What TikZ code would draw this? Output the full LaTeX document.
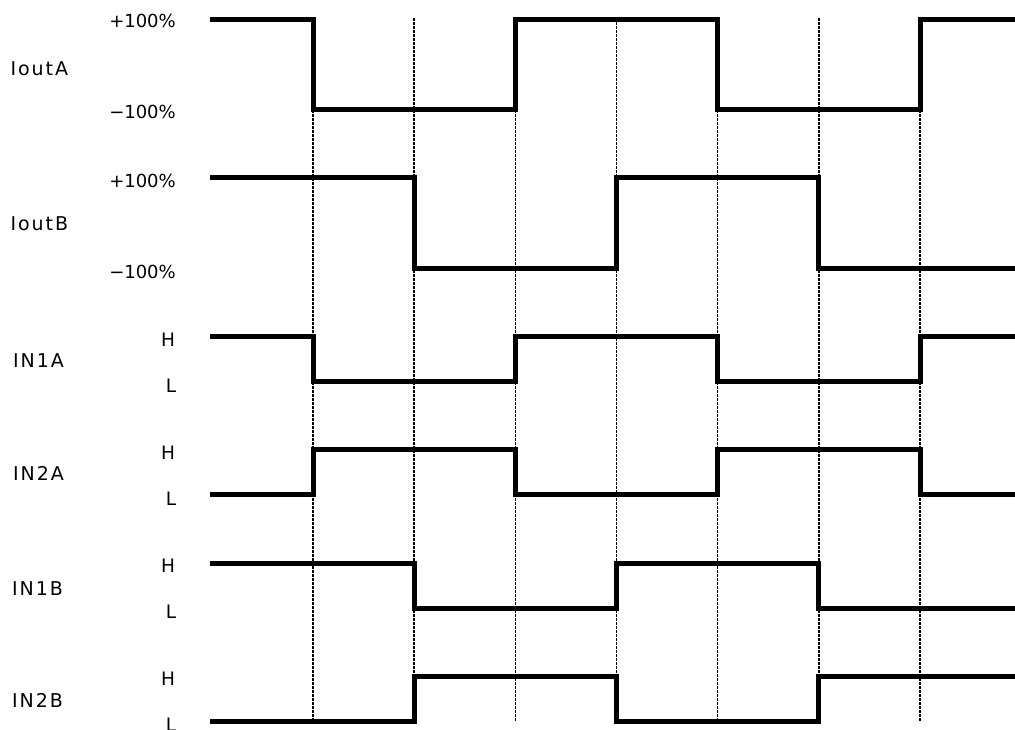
\documentclass[tikz,border=0pt]{standalone}
\usepackage{fontspec}
\setmainfont{DejaVu Sans}
\newfontfamily\labfont[LetterSpace=10]{DejaVu Sans}
\begin{document}
\begin{tikzpicture}[x=1pt,y=-1pt,
  wave/.style={line width=5pt, line join=miter},
  guide/.style={line width=1.5pt, dash pattern=on 2.5pt off 1.5pt},
  sig/.style={font=\labfont\fontsize{19}{19}\selectfont, inner sep=0pt, anchor=base west},
  lvl/.style={font=\fontsize{18}{18}\selectfont, inner sep=0pt, anchor=base east},
  hl/.style={font=\fontsize{18.5}{18.5}\selectfont, inner sep=0pt, anchor=base}]
\useasboundingbox (0,0) rectangle (1015,729);
\def\ta{313}\def\tb{414.2}\def\tc{515.3}\def\td{616.5}\def\te{717.7}\def\tf{818.9}\def\tg{920}
\def\xs{210}\def\xe{1015}
% guide lines
\foreach \t [count=\i] in {\ta,\tb,\tc,\td,\te,\tf,\tg}{
  \coordinate (g\i t) at (\t,18);
  \coordinate (g\i b) at (\t,722);
  \draw[guide] (g\i t) -- (g\i b);
}
% IoutA
\draw[wave] (\xs,19) -- (\ta,19) -- (\ta,109) -- (\tc,109) -- (\tc,19) -- (\te,19) -- (\te,109) -- (\tg,109) -- (\tg,19) -- (\xe,19);
% IoutB
\draw[wave] (\xs,177) -- (\tb,177) -- (\tb,268) -- (\td,268) -- (\td,177) -- (\tf,177) -- (\tf,268) -- (\xe,268);
% IN1A
\draw[wave] (\xs,336) -- (\ta,336) -- (\ta,381) -- (\tc,381) -- (\tc,336) -- (\te,336) -- (\te,381) -- (\tg,381) -- (\tg,336) -- (\xe,336);
% IN2A
\draw[wave] (\xs,494) -- (\ta,494) -- (\ta,449) -- (\tc,449) -- (\tc,494) -- (\te,494) -- (\te,449) -- (\tg,449) -- (\tg,494) -- (\xe,494);
% IN1B
\draw[wave] (\xs,563) -- (\tb,563) -- (\tb,608) -- (\td,608) -- (\td,563) -- (\tf,563) -- (\tf,608) -- (\xe,608);
% IN2B
\draw[wave] (\xs,721) -- (\tb,721) -- (\tb,676) -- (\td,676) -- (\td,721) -- (\tf,721) -- (\tf,676) -- (\xe,676);
% labels
\node[sig] (la) at (10.5,75) {IoutA};
\node[sig] (lb) at (10.5,230) {IoutB};
\node[sig] (l1a) at (13,367) {IN1A};
\node[sig] (l2a) at (13,480) {IN2A};
\node[sig] (l1b) at (12,595) {IN1B};
\node[sig] (l2b) at (12,707) {IN2B};
\node[lvl] (pa) at (176,27) {+100\%};
\node[lvl] (ma) at (176,118) {−100\%};
\node[lvl] (pb) at (176,187) {+100\%};
\node[lvl] (mb) at (176,278) {−100\%};
\foreach \y [count=\i] in {346,459,572,685}{
  \node[hl] (h\i) at (168,\y) {H};
  \node[hl] (l\i) at (171,\y+46) {L};
}
\end{tikzpicture}
\end{document}
